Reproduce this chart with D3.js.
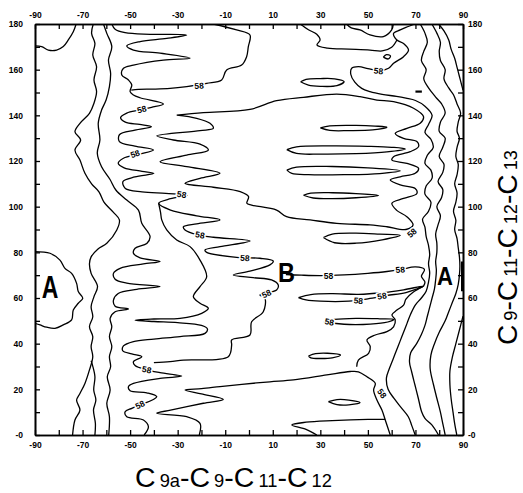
<!DOCTYPE html>
<html><head><meta charset="utf-8">
<script src="https://cdn.jsdelivr.net/npm/d3@7"></script>
<style>body{margin:0;background:#fff}svg{display:block}</style>
</head><body>
<script>
// ---------- axis ticks ----------
const xMinorTicks = [-90,-80,-70,-60,-50,-40,-30,-20,-10,0,10,20,30,40,50,60,70,80,90];
const xMajorTicks = [-90,-70,-50,-30,-10,10,30,50,70,90];
const xTickLabels = ["-90","-70","-50","-30","-10","10","30","50","70","90"];
const yMinorTicks = [0,10,20,30,40,50,60,70,80,90,100,110,120,130,140,150,160,170,180];
const yMajorTicks = [0,20,40,60,80,100,120,140,160,180];
const yTickLabels = ["-0","20","40","60","80","100","120","140","160","180"];
const xTitle = [["C","big"],["9a","small"],["-C","big"],["9","small"],["-C","big"],["11","small"],["-C","big"],["12","small"]];
const yTitle = [["C","big"],["9","small"],["-C","big"],["11","small"],["-C","big"],["12","small"],["-C","big"],["13","small"]];

// ---------- contour lines (phi, psi in degrees) ----------
const cornerTL = [[-90,170.4],[-87.2,170.1],[-84.4,168.6],[-80.9,168.6],[-78.1,170.1],[-76,173],[-73.9,176.6],[-72.7,180]];
const loopA = [[-90,80.3],[-83.7,79.6],[-79.5,76.6],[-77.4,73],[-74.6,70.8],[-72.5,66.4],[-71.8,62.8],[-69.9,59.9],[-71.8,57.7],[-73.9,54.7],[-74.6,50.4],[-78.1,48.2],[-81.6,46.7],[-85.1,47.2],[-87.9,48.2],[-90,48.9]];
const lineV1 = [[-65.5,180],[-66.2,175.9],[-64.8,171.5],[-65.7,166.4],[-64.1,161.3],[-65.2,155.5],[-64.1,150.4],[-65.2,145.3],[-67.1,140.9],[-71.1,136.5],[-73.2,132.8],[-70.8,129.2],[-73.2,124.8],[-71.1,120.4],[-69,114.6],[-66.2,110],[-63.1,106.5],[-61,102],[-57,97.5],[-54.5,94.2],[-55.6,89.8],[-59.8,84],[-63.5,81.5],[-66.4,78],[-67.1,75],[-66.4,70.8],[-63.7,65],[-65.2,60.6],[-66.4,56.2],[-65.7,51.8],[-67.1,47.4],[-65.7,43.1],[-66.4,38.7],[-65.7,34.3],[-67.1,28.5],[-69,22.6],[-71.1,18.2],[-72.5,15.3],[-71.1,10.9],[-73.2,6.6],[-74.2,0]];
const lineV2 = [[-61.2,180],[-59.8,175.9],[-57.7,170.1],[-59.1,164.2],[-58.2,158.4],[-58.7,152.6],[-60.1,146.7],[-62,142.3],[-63.4,136.5],[-62.7,129.2],[-63.8,123.4],[-62,117.5],[-58.5,112],[-56,107.3],[-51.4,102.9],[-46.5,98.5],[-45.1,92.7],[-41.6,86.9],[-43,83.9],[-47.9,81.8],[-48.6,79.6],[-45.8,77.6],[-37.4,76],[-44.4,74.9],[-54.2,73],[-57,70.8],[-56.3,68.2],[-51.4,66.5],[-37.4,65],[-47.2,63.8],[-55,62],[-57,59.1],[-56.3,56.4],[-50.7,55.2],[-56.3,54],[-58.4,51.1],[-57.7,47.4],[-58.7,43.1],[-57.7,38.7],[-58.7,34.3],[-58.2,29.9],[-59.6,25.5],[-58.4,19.7],[-59.8,13.9],[-58.7,8],[-59,0]];
const lineV2b = [[-64.8,0],[-64.6,5],[-65.4,11],[-64.4,15.3],[-65.3,19.7],[-64.8,25.5],[-65.8,30.5],[-66.4,32.5]];
const lineZ = [[-57.7,180],[-56.3,177.7],[-52.1,176.2],[-41.6,175.5],[-26.2,175.2],[-34.6,173.7],[-45.8,172.3],[-51.4,170.4],[-48.6,168.6],[-37.4,167.2],[-24.8,165],[-36,164.2],[-48.6,162],[-52.8,160.6],[-53.5,157.7],[-50.7,155.5],[-49.3,153.3],[-50,150.4],[-48.6,148.9],[-45.8,147.7],[-36,145],[-41,143.5],[-46,142.3],[-51.4,141],[-54,139],[-52,137],[-46,136],[-41,135],[-48,133.5],[-54.5,131.5],[-54.5,128.5],[-48,126.5],[-40.2,124.8],[-46,123],[-52.8,121.2],[-55,119],[-52.5,117],[-45,115.5],[-40,114.6],[-48,113],[-53,111],[-52,108],[-45,106.5],[-35,105.8],[-26,105],[-33,103.5],[-38,101.5],[-33,98.5],[-22,96],[-12.2,94.2],[-22,92.5],[-27.6,91.2],[-26.9,89.8],[-22,87.8],[-15,86.6],[0.4,85],[-12.2,82.5],[-18.5,81],[-17.8,80],[-5.2,77.8],[4.6,77.4],[10.2,76.2],[8.8,74.5],[0.4,71.8],[-6.6,70.1],[1.8,68.9],[9.5,67.9],[12.3,65.7],[11.6,63.5],[4.6,61.3],[6.7,59.9],[6,54],[1.1,49.6],[0.4,43.8],[-7.3,41.6],[-7.3,39.4],[-8.7,34.3],[-27.6,32.8],[-33.2,32.1],[-40,31.7]];
const lineT = [[-15,180],[-5.2,177.4],[0.4,175.2],[-0.3,170],[-1,165.7],[-3.1,162],[-9.4,159.9],[-11.5,155.5],[-17.8,154],[-26.2,152.6],[-33.2,151.8],[-40,151.5],[-46.5,151.4],[-49.5,151]];
const lineC = [[-30.4,140.1],[-19.2,141.2],[0.4,142.6],[11.6,146.4],[22.9,147.9],[36.9,149.3],[46.7,148.2],[53.8,146.7],[60.8,146],[69.2,143.1],[73.4,139.4],[72,136.5],[66.4,134.3],[61.5,132.1],[65,129.9],[70.6,128.5],[71.3,126.3],[67.8,124.1],[60.8,121.9],[60.1,120.4],[66.4,119],[71.3,116.8],[69.9,114.6],[63.6,113.1],[59.4,111.7],[63.6,109.5],[69.9,108],[70.6,105.8],[65,103.6],[60.1,101.5],[62,98.5],[66.5,95.5],[69,92],[66,90],[58,91.2],[50.9,92],[36.9,92.7],[25.7,94.2],[15.8,95.6],[11.6,98.5],[1.1,100.7],[-0.9,101.5],[-0.2,104.4],[-3.7,106.6],[-15,108.5],[-26.9,110.2],[-20.6,112.4],[-12.2,114.6],[-26.2,117.5],[-37.4,119.7],[-26.2,122.6],[-17.1,124.8],[-20.6,127.4],[-31.8,129.2],[-38.8,131],[-20.6,133.3],[-15,134.3],[-16.4,136.5],[-22,138.7],[-30.4,140.1]];
const lineK = [[-38,101.5],[-37.2,97.5],[-36.7,94.2],[-34.6,89.8],[-30.4,85.4],[-24.8,82.5],[-20.6,76.6],[-17.8,69.3],[-20.6,65],[-23.4,60.6],[-20.6,57.7],[-17.1,55.5],[-19.9,53.3],[-29,51.1],[-40,50.8],[-47.9,50.3],[-40,49.7],[-30,49.2],[-20,48],[-17.5,46.5],[-18.5,44.5],[-29,43.1],[-40,42],[-48.6,40.9],[-52.8,39],[-53.1,36.9],[-49.3,35.5],[-45.1,34.3],[-48.6,32.1],[-47.9,30.4],[-43,28.5],[-37.4,27.3],[-28.3,25.8],[-37.4,24.8],[-48.6,22.6],[-50.7,21.2],[-50,19.4],[-43,18.5],[-38.8,16.8],[-45.8,13.1],[-49.3,11.7],[-52.1,10.2],[-51.4,8],[-44.4,6.6],[-42.3,3.6],[-44.1,0]];
const lineCLower = [[59.4,0],[57.3,6.6],[55.9,10.9],[53.8,15.3],[52.4,19.7],[53.1,22.6],[49.6,25.5],[46,27.7],[42.5,27.8],[32.7,26.3],[18.7,24.1],[8.8,23.3],[-3,22.2],[-12.2,21.2],[-20,20.3],[-26.9,19.7],[-20,18],[-10.8,15.6],[-19.2,13.9],[-33,10.9],[-38.8,9.5],[-26.2,8],[-20.6,5.1],[-20.9,0]];
const lineBottomFinger = [[28.5,0],[24,2.5],[18,4.4],[24,5.6],[35,6.3],[50,6.8],[57.3,6.8]];
const lineR1Upper = [[45.3,29.9],[46,32.8],[50.3,35.8],[51,38.7],[49.6,41.6],[53.1,43.8],[58,45.3],[60.8,47.4],[61.5,50.4],[60.1,52.6],[62.2,54.7],[65,56.9],[66,59.5],[69,62.5],[73.4,65.2]];
const lineB = [[15.5,70.3],[22,70],[30,69.8],[40,70.1],[50,70.8],[58,71.6],[64,72.5],[70,73.6],[73.8,72.5],[72.5,69.5],[74,67],[73.4,65.2]];
const lens60 = [[20.8,60.2],[26,61.5],[35,61.9],[46,61.6],[56,62.3],[65,63.6],[73.4,65.2],[66,62.4],[58,61.1],[50,59.6],[42,58.6],[30,58.6],[24,59.2],[20.8,60.2]];
const lens50 = [[31.5,49.6],[36,50.6],[45,51.1],[55,50.9],[61,50.6],[57,49.2],[48,48.4],[40,48.5],[31.5,49.6]];
const lens35 = [[25,34.6],[28,35.6],[33,35.8],[38.5,35],[35,33.8],[30,33.5],[26,33.8],[25,34.6]];
const lens14 = [[33.4,14.6],[37,15.5],[42,15.3],[46.7,14.2],[42,13.2],[37,13.3],[33.4,14.6]];
const lens155 = [[21.7,154.7],[24,155.8],[30,156.1],[36,156],[40,154.8],[37,153],[30,152.7],[25,153.2],[21.7,154.7]];
const lens134 = [[30,134.5],[34,135.4],[45,135.6],[53,135.3],[58,134.8],[52,133.6],[42,133.3],[34,133.4],[30,134.5]];
const lens125 = [[15.9,125],[20,126.2],[35,126.6],[50,126.4],[60,126],[65.7,125.3],[58,124],[45,123.2],[30,123],[20,123.3],[15.9,125]];
const lens116 = [[15.9,116],[20,117.3],[35,117.6],[50,117],[63.6,115.7],[55,114.5],[40,114],[25,114],[18,114.6],[15.9,116]];
const lens105 = [[22.9,105],[26,105.9],[35,106.1],[45,105.7],[54.5,104.9],[45,103.9],[35,103.5],[27,103.8],[22.9,105]];
const lens86 = [[31.3,86.5],[35,88],[45,88.4],[55,88],[63.6,87.5],[56,85.5],[45,84],[36,84.2],[31.3,86.5]];
const island165 = [[56.5,165.5],[57.8,166.6],[59.5,166],[58.6,164.7],[56.5,165.5]];
const dash150 = [[70,150.4],[72.7,150.4]];
const topLineA = [[21.5,180],[25,177.5],[28.5,175.5],[29.9,173],[28.6,170.8],[33,169.4],[42,169],[50.9,168.6],[56,168.2],[60,169.8],[62.2,173]];
const topBump = [[41,180],[43,178.3],[46.7,177.4],[50.9,175.2],[56.5,174.5],[60,177.4],[60.7,180]];
const lineRB = [[69.9,180],[66,178.5],[63.6,177.4],[60.8,175.9],[62.2,173],[65,171.5],[67.1,168.6],[65,165.7],[60.8,162.8],[58.7,160.6],[54.5,159.5],[50,160.5],[46,161.3],[43.2,160.6],[42.8,158],[44.5,154.5],[47.4,151.8],[50.9,150.4],[56,149.2],[62,148.3],[66,147.5],[70,146.5],[74,144],[77,140],[75.5,136],[74,132.5],[76.5,129.5],[77.5,126],[75,122.5],[74,119],[76.5,116],[77,112.5],[74.5,109],[74,105.5],[76.5,102],[75.5,98],[73,94.5],[74,91],[74.5,87],[75.5,83],[76,79],[75.5,75],[76,71],[75.5,67],[74.5,63],[72.5,60],[70,57],[68,53],[66.5,49],[65,45],[63.5,41],[62,37],[60.5,33],[59,29],[57.8,25],[58.5,20],[61,16],[64,12],[67,8],[68.5,4],[69.9,0]];
const lineRC = [[72,180],[74,176],[75,172],[73.5,168],[72.5,164],[74.5,160],[73.5,156],[75.5,152],[78.5,148],[81,145],[82.5,141],[80.5,137],[80,133],[82.5,130],[81.5,126],[80,122],[82,118.5],[81.5,115],[79.5,111],[81.5,107.5],[81,104],[79,100],[80.5,96],[79.5,92],[78.5,88],[79,84],[79,80],[78.5,76],[78.8,72],[78.5,68],[78,64],[77,60],[76,56],[75,52],[74,48],[72.5,44],[70.5,40],[68,36],[67.5,32],[68.4,27.7],[69.8,21.9],[71.2,16.1],[72.6,10.2],[74,7.3],[76.9,4.4],[79.7,0]];
const lineRD = [[76.9,180],[79,176],[80.5,172],[80,168],[80.5,164],[82.5,160],[82,156],[84,152],[86,149],[87.5,145],[89,141],[88,137],[87.5,133],[88.5,130],[87.5,126],[87,122],[88,118.5],[87.5,114],[86.5,110],[87.5,106],[87,102],[86,98],[87,94],[86.5,90],[87.5,86],[88,82],[88.5,78],[88.7,74],[88.5,70],[88,66],[87,62],[85.5,58],[84,54],[82.5,50],[80,45],[78,40],[76.5,35],[76.2,29],[77.6,22],[79,16.1],[80.5,10],[81.5,5],[82.5,0]];
const lineRE = [[79.7,180],[82,177],[84,173],[85,169],[86.5,165],[87.5,161],[88.5,157],[89.5,153],[90,151]];
const lineRE3 = [[90,52],[88.5,46],[87,40],[85.5,34],[84.5,28],[84.5,22],[85,16],[85.8,10],[86.5,5],[87.4,0]];
const barRight = [[90,63],[90,76]];

const contours = [cornerTL, loopA, lineV1, lineV2, lineV2b, lineZ, lineT, lineC, lineK, lineCLower,
  lineBottomFinger, lineR1Upper, lineB, lens60, lens50, lens35, lens14, lens155, lens134, lens125,
  lens116, lens105, lens86, island165, topLineA, topBump, lineRB, lineRC, lineRD, lineRE, lineRE3];

// ---------- contour labels "58" (phi, psi, angle) ----------
const labelText = "58";
const labelPos = [[-21,152.9,-3],[-45.1,142.6,-15],[-47.9,123.1,-20],[-28.3,105.3,8],[-20.6,87.6,10],
  [-1.7,77.5,3],[7.4,61.8,-25],[33.4,69.5,0],[63.6,72.4,-5],[46,58.8,5],[55.9,60.9,-10],
  [33.8,49.5,10],[55.9,18.2,55],[-43,28.6,10],[-45.8,13.2,-25],[54.5,159.4,5],[68.5,88.5,-40]];
// region letters
const regionLetters = [{t:"A",x:-83.7,y:60.2,size:32,sx:0.72},{t:"B",x:15.8,y:67,size:28,sx:0.84},{t:"A",x:82.4,y:65.7,size:26,sx:0.85}];

// ---------- drawing ----------
const W = 523, H = 493;
const L = 35, R = 463, T = 24, B = 435;
const x = d3.scaleLinear().domain([-90, 90]).range([L, R]);
const y = d3.scaleLinear().domain([0, 180]).range([B, T]);
const svg = d3.select("body").append("svg").attr("width", W).attr("height", H)
  .style("font-family", "'Liberation Sans', Arial, Helvetica, sans-serif");

svg.append("defs").append("clipPath").attr("id", "plot")
  .append("rect").attr("x", L).attr("y", T).attr("width", R - L).attr("height", B - T);

const line = d3.line().x(d => x(d[0])).y(d => y(d[1])).curve(d3.curveCatmullRom.alpha(0.5));
const g = svg.append("g").attr("clip-path", "url(#plot)");
g.selectAll("path.c").data(contours).join("path").attr("class", "c")
  .attr("d", line).attr("fill", "none").attr("stroke", "#000").attr("stroke-width", 1.3)
  .attr("stroke-linejoin", "round");
g.append("path").datum(dash150).attr("d", d3.line().x(d => x(d[0])).y(d => y(d[1])))
  .attr("stroke", "#000").attr("stroke-width", 2.2);
g.append("path").datum(barRight).attr("d", d3.line().x(d => x(d[0])).y(d => y(d[1])))
  .attr("stroke", "#000").attr("stroke-width", 4);

// labels
g.selectAll("text.lab").data(labelPos).join("text").attr("class", "lab")
  .attr("transform", d => `translate(${x(d[0])},${y(d[1])}) rotate(${d[2]})`)
  .attr("text-anchor", "middle").attr("dy", "0.35em")
  .attr("font-size", 8.5).attr("font-weight", "bold")
  .attr("stroke", "#fff").attr("stroke-width", 3).attr("paint-order", "stroke")
  .attr("fill", "#000").text(labelText);

svg.selectAll("text.reg").data(regionLetters).join("text").attr("class", "reg")
  .attr("transform", d => `translate(${x(d.x)},${y(d.y)}) scale(${d.sx},1)`)
  .attr("text-anchor", "middle").attr("font-size", d => d.size).attr("font-weight", "bold")
  .attr("fill", "#000").text(d => d.t);

// axes
function styleAxis(sel) {
  sel.selectAll("path.domain").attr("stroke-width", 1.6);
  sel.selectAll("line").attr("stroke-width", 1.3);
  sel.selectAll("text").attr("font-size", 8.5).attr("font-weight", "bold")
    .attr("font-family", "'Liberation Sans', Arial, sans-serif").attr("fill", "#000");
}
const fmtX = d => xTickLabels[xMajorTicks.indexOf(d)];
const fmtY = d => yTickLabels[yMajorTicks.indexOf(d)];
const axB1 = svg.append("g").attr("transform", `translate(0,${B})`)
  .call(d3.axisBottom(x).tickValues(xMinorTicks).tickSize(-5).tickSizeOuter(0).tickFormat(""));
const axB2 = svg.append("g").attr("transform", `translate(0,${B})`)
  .call(d3.axisBottom(x).tickValues(xMajorTicks).tickSize(0).tickPadding(7).tickFormat(fmtX));
const axT1 = svg.append("g").attr("transform", `translate(0,${T})`)
  .call(d3.axisTop(x).tickValues(xMinorTicks).tickSize(-5).tickSizeOuter(0).tickFormat(""));
const axT2 = svg.append("g").attr("transform", `translate(0,${T})`)
  .call(d3.axisTop(x).tickValues(xMajorTicks).tickSize(0).tickPadding(6).tickFormat(fmtX));
const axL1 = svg.append("g").attr("transform", `translate(${L},0)`)
  .call(d3.axisLeft(y).tickValues(yMinorTicks).tickSize(-5).tickSizeOuter(0).tickFormat(""));
const axL2 = svg.append("g").attr("transform", `translate(${L},0)`)
  .call(d3.axisLeft(y).tickValues(yMajorTicks).tickSize(0).tickPadding(12).tickFormat(fmtY));
const axR1 = svg.append("g").attr("transform", `translate(${R},0)`)
  .call(d3.axisRight(y).tickValues(yMinorTicks).tickSize(-5).tickSizeOuter(0).tickFormat(""));
const axR2 = svg.append("g").attr("transform", `translate(${R},0)`)
  .call(d3.axisRight(y).tickValues(yMajorTicks).tickSize(0).tickPadding(5).tickFormat(fmtY));
[axB1, axB2, axT1, axT2, axL1, axL2, axR1, axR2].forEach(styleAxis);

// axis titles: measured by bounding box, then scaled horizontally to the reference length
function title(parts, px, py, rot, len) {
  const outer = svg.append("g").attr("transform", `translate(${px},${py}) rotate(${rot})`);
  const t = outer.append("text").attr("fill", "#000");
  parts.forEach(([s, k]) => {
    t.append("tspan").attr("font-size", k === "big" ? 28 : 18)
      .attr("dx", k === "small" ? 4 : 0).text(s);
  });
  const bb = t.node().getBBox();
  const s = len / bb.width;
  t.attr("transform", `scale(${s},1) translate(${-bb.x},0)`);
}
title(xTitle, 135, 487, 0, 197);
title(yTitle, 517, 345, -90, 195);
</script>
</body></html>
